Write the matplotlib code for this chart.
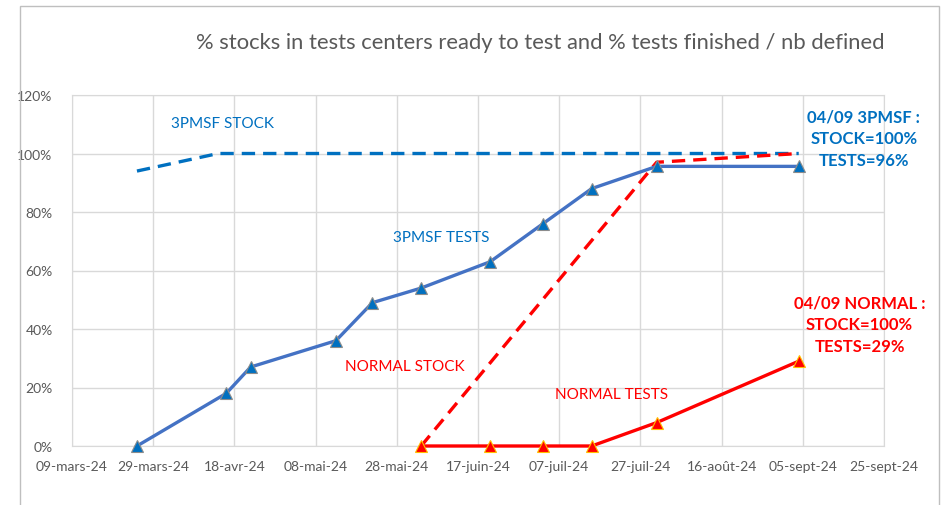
import matplotlib
matplotlib.use("Agg")
import matplotlib.pyplot as plt
from matplotlib.patches import Rectangle
import pandas as pd

# data (values in %)
tests_3pmsf_dates = ["2024-03-25", "2024-04-16", "2024-04-22", "2024-05-13", "2024-05-22",
                     "2024-06-03", "2024-06-20", "2024-07-03", "2024-07-15", "2024-07-31",
                     "2024-09-04"]
tests_3pmsf = [0, 18, 27, 36, 49, 54, 63, 76, 88, 95.6, 95.6]

stock_3pmsf_dates = ["2024-03-25", "2024-04-14", "2024-09-04"]
stock_3pmsf = [94, 100, 100]

stock_normal_dates = ["2024-06-03", "2024-07-31", "2024-09-04"]
stock_normal = [0, 97, 100]

tests_normal_dates = ["2024-06-03", "2024-06-20", "2024-07-03", "2024-07-15", "2024-07-31",
                      "2024-09-04"]
tests_normal = [0, 0, 0, 0, 8, 29]

tick_dates = pd.date_range("2024-03-09", periods=11, freq="20D")
tick_labels = ["09-mars-24", "29-mars-24", "18-avr-24", "08-mai-24", "28-mai-24", "17-juin-24",
               "07-juil-24", "27-juil-24", "16-août-24", "05-sept-24", "25-sept-24"]

title = "% stocks in tests centers ready to test and % tests finished / nb defined"

BLUE = "#0070C0"
BLUE_LINE = "#4472C4"
RED = "#FF0000"
GRAY = "#595959"
GRID = "#D9D9D9"

plt.rcParams["font.family"] = ["Lato", "DejaVu Sans"]

fig = plt.figure(figsize=(9.43, 5.06), dpi=100)
# outer chart frame
fig.patches.append(Rectangle((20 / 943, -0.05), 919 / 943, 1.05 - 7 / 506, transform=fig.transFigure,
                             fill=False, edgecolor="#BFBFBF", lw=1))
ax = fig.add_axes([72 / 943, 59 / 506, 812 / 943, 351 / 506])

def d(lst):
  return pd.to_datetime(lst)

ax.plot(d(stock_3pmsf_dates), stock_3pmsf, color=BLUE, lw=2.4, dashes=(4, 2.4), zorder=3)
ax.plot(d(stock_normal_dates), stock_normal, color=RED, lw=2.4, dashes=(4, 2.4), zorder=3)
ax.plot(d(tests_3pmsf_dates), tests_3pmsf, color=BLUE_LINE, lw=2.4, marker="^", markersize=9,
        markerfacecolor=BLUE, markeredgecolor="#8C8C8C", markeredgewidth=0.8, zorder=4, clip_on=False)
ax.plot(d(tests_normal_dates), tests_normal, color=RED, lw=2.4, marker="^", markersize=9,
        markerfacecolor=RED, markeredgecolor="#FFC000", markeredgewidth=0.8, zorder=4, clip_on=False)

ax.set_xlim(tick_dates[0], tick_dates[-1])
ax.set_ylim(0, 120)
ax.set_xticks(tick_dates)
ax.set_xticklabels(tick_labels)
ax.set_yticks(range(0, 121, 20))
ax.set_yticklabels([f"{v}%" for v in range(0, 121, 20)])
ax.tick_params(length=0, labelsize=10, colors=GRAY)
ax.tick_params(axis="x", pad=10)
ax.tick_params(axis="y", pad=14)
ax.grid(True, color=GRID, lw=1)
ax.set_axisbelow(True)
for s in ax.spines.values():
  s.set_color(GRID)

# labels on the lines
ax.text(pd.Timestamp("2024-04-15"), 110.4, "3PMSF STOCK", color=BLUE, fontsize=11, ha="center", va="center")
ax.text(pd.Timestamp("2024-06-08"), 71.5, "3PMSF TESTS", color=BLUE, fontsize=11, ha="center", va="center")
ax.text(pd.Timestamp("2024-05-30"), 27.4, "NORMAL STOCK", color=RED, fontsize=11, ha="center", va="center")
ax.text(pd.Timestamp("2024-07-20"), 17.8, "NORMAL TESTS", color=RED, fontsize=11, ha="center", va="center")
ax.text(pd.Timestamp("2024-09-20"), 105.3, "04/09 3PMSF :\nSTOCK=100%\nTESTS=96%", color=BLUE,
        fontsize=12, fontweight="bold", ha="center", va="center", linespacing=1.45)
ax.text(pd.Timestamp("2024-09-19"), 41.7, "04/09 NORMAL :\nSTOCK=100%\nTESTS=29%", color=RED,
        fontsize=12, fontweight="bold", ha="center", va="center", linespacing=1.45)

fig.text(540 / 943, 1 - 43 / 506, title, color=GRAY, fontsize=15.8, ha="center", va="center")

fig.savefig("out.png", dpi=100)
